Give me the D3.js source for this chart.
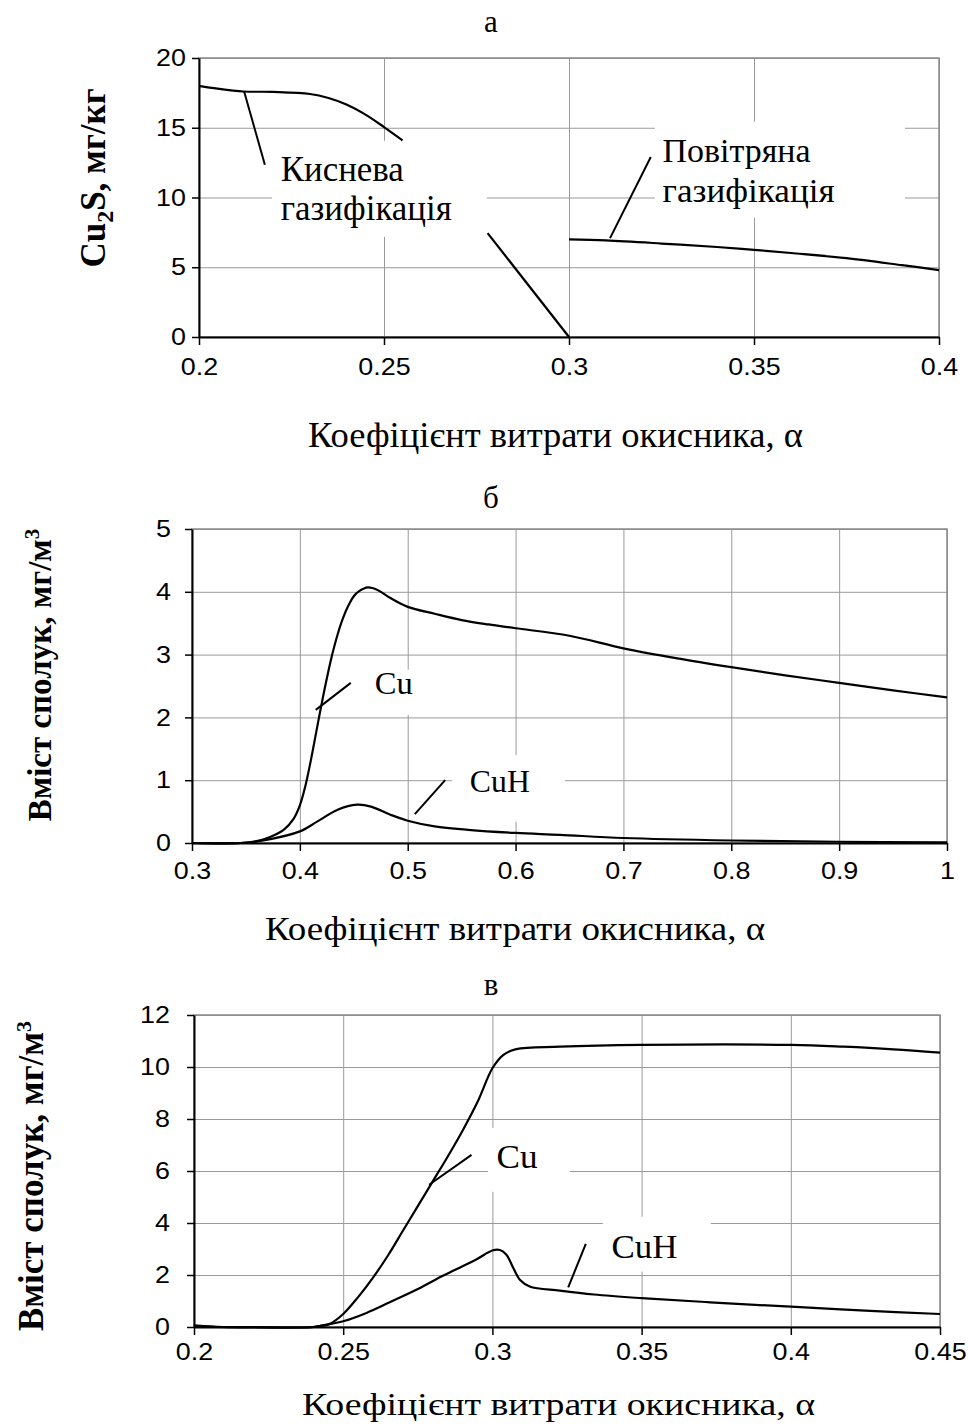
<!DOCTYPE html>
<html>
<head>
<meta charset="utf-8">
<script src="https://cdn.jsdelivr.net/npm/d3@7"></script>
<style>
  body { margin: 0; background: #fff; }
  svg { display: block; }
</style>
</head>
<body>
<svg id="chart"></svg>
<script>
// ---- panel а: Cu2S, мг/кг ----
const aXTicks = [0.2, 0.25, 0.3, 0.35, 0.4];
const aYTicks = [0, 5, 10, 15, 20];
const aOxygenX = [0.2, 0.205, 0.212, 0.22, 0.23, 0.235, 0.24, 0.245, 0.25, 0.255];
const aOxygenY = [18, 17.8, 17.6, 17.57, 17.42, 17.13, 16.65, 15.94, 15.05, 14.1];
const aOxygenTailX = [0.278, 0.3];
const aOxygenTailY = [7.45, 0];
const aAirX = [0.3, 0.31, 0.325, 0.34, 0.35, 0.36, 0.375, 0.39, 0.4];
const aAirY = [7.0, 6.92, 6.7, 6.45, 6.25, 6.02, 5.65, 5.15, 4.8];

// ---- panel б ----
const bXTicks = [0.3, 0.4, 0.5, 0.6, 0.7, 0.8, 0.9, 1];
const bYTicks = [0, 1, 2, 3, 4, 5];
const bCuX = [0.3, 0.345, 0.36, 0.37, 0.385, 0.394, 0.4, 0.405, 0.41, 0.415, 0.42, 0.425, 0.43, 0.435, 0.44, 0.445, 0.45, 0.455, 0.463, 0.472, 0.484, 0.5, 0.525, 0.55, 0.575, 0.6, 0.65, 0.7, 0.75, 0.8, 0.85, 0.9, 0.95, 1];
const bCuY = [0, 0, 0.03, 0.08, 0.21, 0.38, 0.6, 0.9, 1.3, 1.75, 2.2, 2.62, 3.0, 3.32, 3.58, 3.78, 3.93, 4.01, 4.07, 4.03, 3.9, 3.76, 3.65, 3.55, 3.48, 3.42, 3.3, 3.1, 2.94, 2.8, 2.67, 2.55, 2.43, 2.32];
const bCuHX = [0.3, 0.345, 0.369, 0.4, 0.416, 0.435, 0.453, 0.466, 0.484, 0.5, 0.525, 0.556, 0.6, 0.641, 0.7, 0.8, 0.9, 1];
const bCuHY = [0, 0, 0.05, 0.185, 0.34, 0.53, 0.61, 0.58, 0.45, 0.355, 0.265, 0.21, 0.16, 0.13, 0.08, 0.04, 0.02, 0.01];

// ---- panel в ----
const cXTicks = [0.2, 0.25, 0.3, 0.35, 0.4, 0.45];
const cYTicks = [0, 2, 4, 6, 8, 10, 12];
const cCuX = [0.2, 0.2075, 0.22, 0.24, 0.2455, 0.25, 0.255, 0.26, 0.265, 0.27, 0.275, 0.28, 0.285, 0.29, 0.295, 0.3, 0.3036, 0.308, 0.3226, 0.35, 0.4, 0.4176, 0.4344, 0.45];
const cCuY = [0.06, 0, 0, 0, 0.12, 0.5, 1.15, 1.9, 2.75, 3.7, 4.65, 5.6, 6.55, 7.55, 8.65, 9.95, 10.46, 10.69, 10.78, 10.85, 10.85, 10.78, 10.68, 10.55];
const cCuHX = [0.2, 0.21, 0.24, 0.243, 0.25, 0.2578, 0.2656, 0.2745, 0.2812, 0.2879, 0.2946, 0.3002, 0.3025, 0.3047, 0.307, 0.3092, 0.3125, 0.3226, 0.334, 0.35, 0.373, 0.4, 0.425, 0.45];
const cCuHY = [0.03, 0, 0, 0.06, 0.22, 0.54, 0.95, 1.43, 1.84, 2.22, 2.6, 2.95, 2.96, 2.78, 2.27, 1.82, 1.56, 1.4, 1.25, 1.11, 0.95, 0.78, 0.63, 0.5];

const xTitle = "Коефіцієнт витрати окисника, α";

const width = 968;
const height = 1428;
const serif = "'Liberation Serif', 'Times New Roman', serif";
const sans = "'Liberation Sans', Arial, sans-serif";

const svg = d3.select("#chart")
  .attr("width", width)
  .attr("height", height)
  .attr("viewBox", [0, 0, width, height]);

svg.append("rect").attr("width", width).attr("height", height).attr("fill", "#fff");

function drawPanel(p) {
  const x = d3.scaleLinear().domain(p.xDomain).range([p.left, p.right]);
  const y = d3.scaleLinear().domain(p.yDomain).range([p.bottom, p.top]);
  const g = svg.append("g");

  // grid
  g.append("g")
    .attr("transform", `translate(0,${p.bottom})`)
    .call(d3.axisBottom(x).tickValues(p.xTicks).tickSize(-(p.bottom - p.top)).tickFormat(""))
    .call(s => s.select(".domain").remove())
    .call(s => s.selectAll("line").attr("stroke", "#9a9a9a").attr("stroke-width", 1));
  g.append("g")
    .attr("transform", `translate(${p.left},0)`)
    .call(d3.axisLeft(y).tickValues(p.yTicks).tickSize(-(p.right - p.left)).tickFormat(""))
    .call(s => s.select(".domain").remove())
    .call(s => s.selectAll("line").attr("stroke", "#9a9a9a").attr("stroke-width", 1));

  g.append("rect")
    .attr("x", p.left).attr("y", p.top)
    .attr("width", p.right - p.left).attr("height", p.bottom - p.top)
    .attr("fill", "none").attr("stroke", "#8a8a8a").attr("stroke-width", 1.5);

  // white boxes behind the labels
  p.labels.forEach(l => {
    g.append("rect")
      .attr("x", x(l.box[0])).attr("y", y(l.box[1]))
      .attr("width", x(l.box[2]) - x(l.box[0]))
      .attr("height", y(l.box[3]) - y(l.box[1]))
      .attr("fill", "#fff");
  });

  // axes (tick digits in the source are a bit wider than Arial)
  const styleAxis = s => {
    s.select(".domain").attr("stroke", "#000").attr("stroke-width", 2);
    s.selectAll(".tick line").attr("stroke", "#000").attr("stroke-width", 1.5);
    s.selectAll(".tick text")
      .attr("fill", "#000")
      .style("font-family", sans)
      .style("font-size", "24px")
      .each(function () {
        const w = this.getComputedTextLength();
        d3.select(this).attr("textLength", w * 1.12).attr("lengthAdjust", "spacingAndGlyphs");
      });
  };
  g.append("g")
    .attr("transform", `translate(0,${p.bottom})`)
    .call(d3.axisBottom(x).tickValues(p.xTicks).tickSize(8).tickSizeOuter(0).tickPadding(p.xPad).tickFormat(d => String(d)))
    .call(styleAxis);
  g.append("g")
    .attr("transform", `translate(${p.left},0)`)
    .call(d3.axisLeft(y).tickValues(p.yTicks).tickSize(7).tickSizeOuter(0).tickPadding(p.yPad).tickFormat(d => String(d)))
    .call(styleAxis);

  // series
  const line = d3.line()
    .x(d => x(d[0]))
    .y(d => y(d[1]))
    .curve(d3.curveCatmullRom.alpha(0.5));
  p.series.forEach(s => {
    g.append("path")
      .datum(d3.zip(s[0], s[1]))
      .attr("fill", "none")
      .attr("stroke", "#000")
      .attr("stroke-width", 2.2)
      .attr("d", line);
  });

  // leader lines and labels
  p.labels.forEach(l => {
    g.append("line")
      .attr("x1", x(l.leader[0])).attr("y1", y(l.leader[1]))
      .attr("x2", x(l.leader[2])).attr("y2", y(l.leader[3]))
      .attr("stroke", "#000").attr("stroke-width", 2);
    l.lines.forEach((t, i) => {
      g.append("text")
        .attr("x", x(l.at[0]))
        .attr("y", y(l.at[1 + i]))
        .attr("textLength", l.widths[i])
        .attr("lengthAdjust", "spacingAndGlyphs")
        .style("font-family", serif)
        .style("font-size", l.size + "px")
        .attr("fill", "#000")
        .text(t);
    });
  });

  // panel letter
  svg.append("text")
    .attr("x", p.letterX).attr("y", p.letterY)
    .attr("text-anchor", "middle")
    .style("font-family", serif).style("font-size", "31px")
    .text(p.letter);

  // x title
  svg.append("text")
    .attr("x", p.titleX).attr("y", p.titleY)
    .attr("textLength", p.titleW)
    .attr("lengthAdjust", "spacingAndGlyphs")
    .style("font-family", serif).style("font-size", p.titleSize + "px")
    .text(xTitle);

  // y title
  const yt = svg.append("text")
    .attr("transform", `translate(${p.yTitleX},${p.yTitleY}) rotate(-90)`)
    .attr("text-anchor", "middle")
    .style("font-family", serif).style("font-size", p.yTitleSize + "px").style("font-weight", "bold");
  p.yTitle(yt);
}

drawPanel({
  xDomain: [0.2, 0.4], yDomain: [0, 20],
  left: 199, right: 939, top: 58, bottom: 337,
  xTicks: aXTicks, yTicks: aYTicks, xPad: 13, yPad: 6,
  series: [[aOxygenX, aOxygenY], [aOxygenTailX, aOxygenTailY], [aAirX, aAirY]],
  labels: [
    { box: [0.2197, 14.07, 0.2778, 7.18], leader: [0.2122, 17.6, 0.2178, 12.35],
      at: [0.2221, 11.2, 8.4], lines: ["Киснева", "газифікація"], widths: [123, 171], size: 35 },
    { box: [0.3232, 15.43, 0.3908, 8.54], leader: [0.3111, 7.09, 0.3221, 12.9],
      at: [0.3253, 12.58, 9.71], lines: ["Повітряна", "газифікація"], widths: [148, 172], size: 34 }
  ],
  letter: "а", letterX: 491, letterY: 32,
  titleX: 308, titleY: 447, titleW: 495, titleSize: 35,
  yTitleX: 105, yTitleY: 178, yTitleSize: 35,
  yTitle: t => {
    t.append("tspan").text("Cu");
    t.append("tspan").attr("dy", 8).style("font-size", "24px").text("2");
    t.append("tspan").attr("dy", -8).text("S,  мг/кг");
  }
});

drawPanel({
  xDomain: [0.3, 1], yDomain: [0, 5],
  left: 192, right: 947, top: 529, bottom: 843,
  xTicks: bXTicks, yTicks: bYTicks, xPad: 11, yPad: 14,
  series: [[bCuX, bCuY], [bCuHX, bCuHY]],
  labels: [
    { box: [0.4602, 2.76, 0.5112, 2.04], leader: [0.4148, 2.12, 0.4472, 2.55],
      at: [0.4695, 2.37], lines: ["Cu"], widths: [38], size: 32 },
    { box: [0.5409, 1.4, 0.6457, 0.34], leader: [0.5066, 0.46, 0.5347, 1.0],
      at: [0.5576, 0.82], lines: ["CuH"], widths: [60], size: 32 }
  ],
  letter: "б", letterX: 491, letterY: 508,
  titleX: 265, titleY: 940, titleW: 500, titleSize: 34,
  yTitleX: 51, yTitleY: 675, yTitleSize: 33,
  yTitle: t => {
    t.append("tspan").text("Вміст сполук,  мг/м");
    t.append("tspan").attr("dy", -12).style("font-size", "21px").text("3");
  }
});

drawPanel({
  xDomain: [0.2, 0.45], yDomain: [0, 12],
  left: 194, right: 940, top: 1015, bottom: 1327,
  xTicks: cXTicks, yTicks: cYTicks, xPad: 8, yPad: 17,
  series: [[cCuX, cCuY], [cCuHX, cCuHY]],
  labels: [
    { box: [0.2985, 7.66, 0.326, 5.2], leader: [0.2788, 5.47, 0.293, 6.62],
      at: [0.3014, 6.13], lines: ["Cu"], widths: [41], size: 34 },
    { box: [0.337, 4.24, 0.3732, 2.13], leader: [0.3254, 1.52, 0.3313, 3.2],
      at: [0.3399, 2.65], lines: ["CuH"], widths: [66], size: 34 }
  ],
  letter: "в", letterX: 491, letterY: 995,
  titleX: 302, titleY: 1415, titleW: 513, titleSize: 31,
  yTitleX: 43, yTitleY: 1176, yTitleSize: 35,
  yTitle: t => {
    t.append("tspan").text("Вміст сполук,  мг/м");
    t.append("tspan").attr("dy", -12).style("font-size", "22px").text("3");
  }
});
</script>
</body>
</html>
